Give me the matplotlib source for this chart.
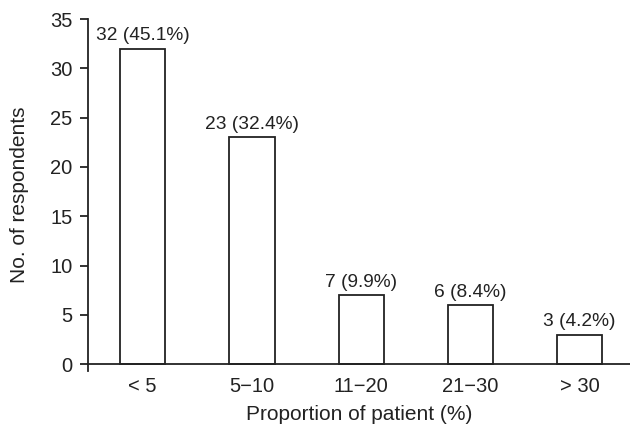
import matplotlib

matplotlib.use('Agg')
import matplotlib.pyplot as plt

plt.rcParams['font.family'] = ['Liberation Sans', 'DejaVu Sans']

categories = ['< 5', '5\u221210', '11\u221220', '21\u221230', '> 30']
respondents = [32, 23, 7, 6, 3]
percentages = [45.1, 32.4, 9.9, 8.4, 4.2]
y_ticks = [0, 5, 10, 15, 20, 25, 30, 35]

fig = plt.figure(figsize=(6.3, 4.4), dpi=100)
ax = fig.add_axes([0.1397, 0.1568, 0.862, 0.80])

positions = list(range(len(categories)))
ax.bar(positions, respondents, width=0.414, color='white',
       edgecolor='#222222', linewidth=1.3)

for x, n, pct in zip(positions, respondents, percentages):
    ax.annotate(f'{n} ({pct}%)', (x, n), xytext=(0, 3),
                textcoords='offset points', ha='center', va='bottom',
                fontsize=13.8, color='#222222')

ax.set_xlim(-0.5, 4.47)
ax.set_ylim(-0.7, 35)
ax.set_yticks(y_ticks)
ax.set_xticks(positions)
ax.set_xticklabels(categories)

ax.spines['top'].set_visible(False)
ax.spines['right'].set_visible(False)
ax.spines['bottom'].set_position(('data', 0))
for side in ('left', 'bottom'):
    ax.spines[side].set_linewidth(1.3)
    ax.spines[side].set_color('#222222')

ax.tick_params(axis='y', length=6, width=1.3, labelsize=14.5,
               colors='#222222', pad=5)
ax.tick_params(axis='x', length=0, labelsize=14.5, colors='#222222', pad=9)

ax.set_ylabel('No. of respondents', fontsize=15, color='#222222',
              labelpad=15.5)
ax.set_xlabel('Proportion of patient (%)', fontsize=15, color='#222222',
              labelpad=6.5)

fig.savefig('out.png', dpi=100)
